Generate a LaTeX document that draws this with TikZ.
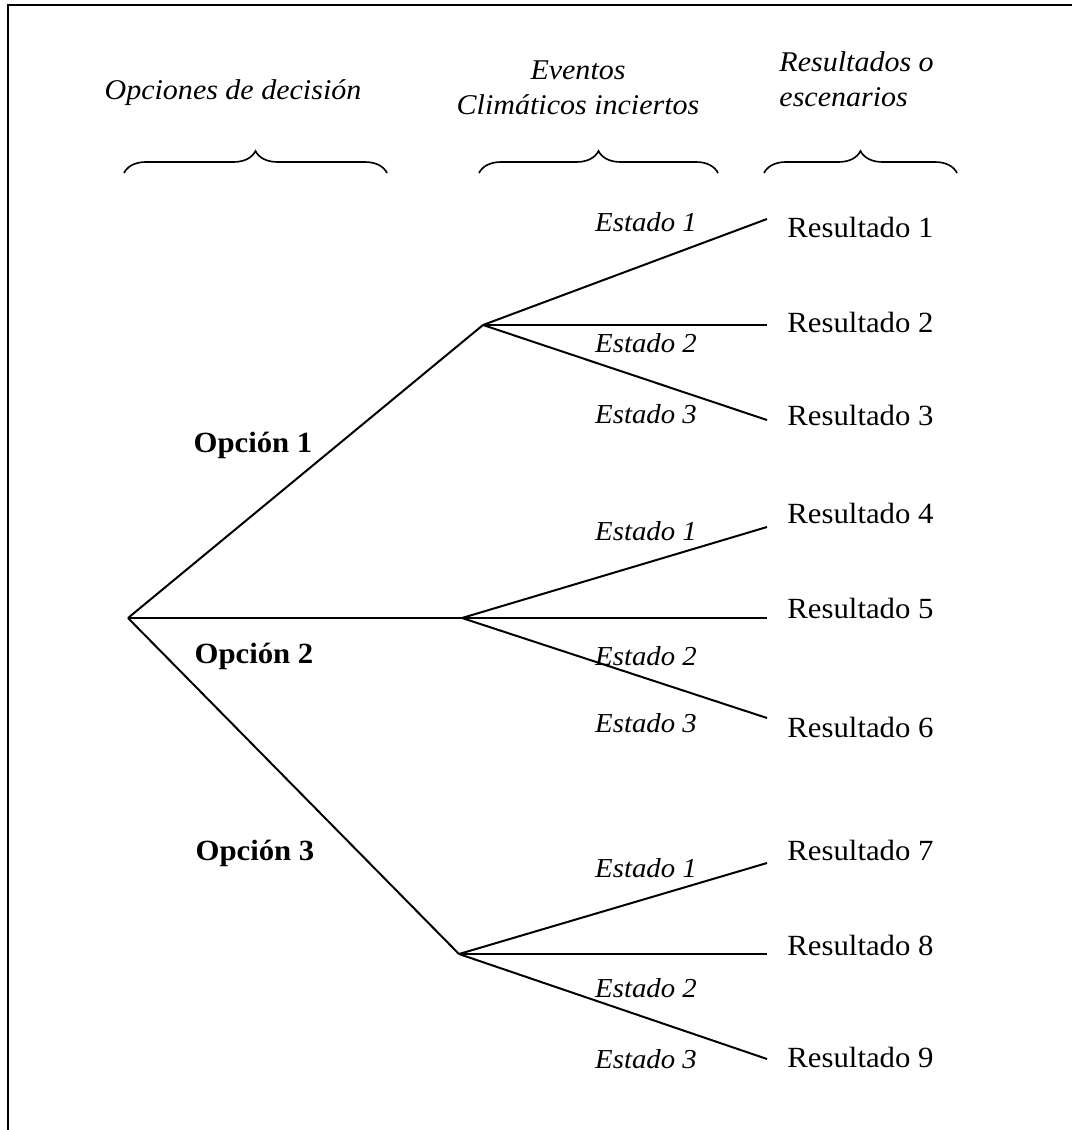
\documentclass[tikz,border=0pt]{standalone}
\usepackage{fontspec}
\setmainfont{Liberation Serif}[FakeStretch=1.05]
\usetikzlibrary{decorations.pathreplacing, positioning}

\begin{document}
\begin{tikzpicture}[
    x=0.015cm, y=-0.015cm,
    branch/.style={line width=0.85pt, line join=round},
    head/.style={font=\fontsize{12.2}{14}\selectfont\itshape, inner sep=0pt, anchor=base},
    state/.style={font=\fontsize{11.7}{13}\selectfont\itshape, inner sep=0pt, anchor=base},
    result/.style={font=\fontsize{12.5}{14}\selectfont, inner sep=0pt, anchor=base west},
    option/.style={font=\fontsize{12.5}{14}\selectfont\bfseries, inner sep=0pt, anchor=base},
    group/.style={decorate, decoration={brace, amplitude=0.33cm}, line width=0.7pt},
]
    \useasboundingbox (0,0) rectangle (1072,1130);

    % Frame -- only the left and top edges show
    \draw[line width=1pt] (8,1130) -- (8,5) -- (1072,5);

    % Column headers
    \node[head] (hdec) at (233,100) {Opciones de decisión};
    \node[head] (hev1) at (578,80) {Eventos};
    \node[head] (hev2) at (578,115) {Climáticos inciertos};
    \node[head, anchor=base west] (hres1) at (779,72) {Resultados o};
    \node[head, anchor=base west] (hres2) at (779,107) {escenarios};

    % Braces under the headers
    \draw[group] (124,173) -- (387,173);
    \draw[group] (479,173) -- (718,173);
    \draw[group] (764,173) -- (957,173);

    % Decision and chance points
    \coordinate (root) at (128,618);
    \coordinate (ch1) at (483,325);
    \coordinate (ch2) at (462,618);
    \coordinate (ch3) at (459,954);

    % Free ends of the outcome branches
    \coordinate (end1) at (767,219);
    \coordinate (end2) at (767,325);
    \coordinate (end3) at (767,420);
    \coordinate (end4) at (767,527);
    \coordinate (end5) at (767,618);
    \coordinate (end6) at (767,718);
    \coordinate (end7) at (767,863);
    \coordinate (end8) at (767,954);
    \coordinate (end9) at (767,1059);

    % Decision branches
    \draw[branch] (root) -- (ch1);
    \draw[branch] (root) -- (ch2);
    \draw[branch] (root) -- (ch3);

    % Outcome branches
    \draw[branch] (ch1) -- (end1);
    \draw[branch] (ch1) -- (end2);
    \draw[branch] (ch1) -- (end3);
    \draw[branch] (ch2) -- (end4);
    \draw[branch] (ch2) -- (end5);
    \draw[branch] (ch2) -- (end6);
    \draw[branch] (ch3) -- (end7);
    \draw[branch] (ch3) -- (end8);
    \draw[branch] (ch3) -- (end9);

    % Options
    \node[option] (opt1) at (253,452) {Opción 1};
    \node[option] (opt2) at (254,663) {Opción 2};
    \node[option] (opt3) at (255,860) {Opción 3};

    % States
    \node[state] (st1a) at (646,232) {Estado 1};
    \node[state] (st2a) at (646,352) {Estado 2};
    \node[state] (st3a) at (646,423) {Estado 3};
    \node[state] (st1b) at (646,540) {Estado 1};
    \node[state] (st2b) at (646,665) {Estado 2};
    \node[state] (st3b) at (646,732) {Estado 3};
    \node[state] (st1c) at (646,877) {Estado 1};
    \node[state] (st2c) at (646,997) {Estado 2};
    \node[state] (st3c) at (646,1068) {Estado 3};

    % Results
    \node[result] (res1) at (787,237) {Resultado 1};
    \node[result] (res2) at (787,332) {Resultado 2};
    \node[result] (res3) at (787,425) {Resultado 3};
    \node[result] (res4) at (787,523) {Resultado 4};
    \node[result] (res5) at (787,618) {Resultado 5};
    \node[result] (res6) at (787,737) {Resultado 6};
    \node[result] (res7) at (787,860) {Resultado 7};
    \node[result] (res8) at (787,955) {Resultado 8};
    \node[result] (res9) at (787,1067) {Resultado 9};
\end{tikzpicture}
\end{document}
